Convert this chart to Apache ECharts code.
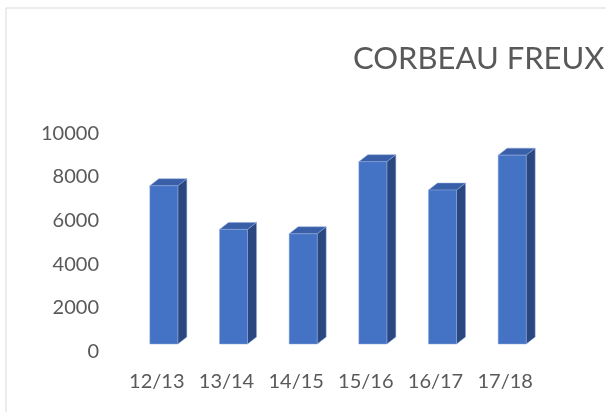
<!DOCTYPE html>
<html lang="fr">
<head>
  <meta charset="UTF-8">
  <title>Corbeau freux</title>
  <script src="https://cdn.jsdelivr.net/npm/echarts@6/dist/echarts.min.js"></script>
  <style>
    html, body { margin: 0; padding: 0; background: #fff; }
    #c1 { width: 606px; height: 412px; }
  </style>
</head>
<body>
<div id="c1"></div>
<script>
  // données
  var saisons = ['12/13', '13/14', '14/15', '15/16', '16/17', '17/18'];
  var effectifs = [7600, 5600, 5400, 8700, 7400, 9000];
  var yTicks = [0, 2000, 4000, 6000, 8000, 10000];

  var chartDom = document.getElementById('c1');
  var myChart = echarts.init(chartDom);
  var option;

  // colonne "3D" façon Excel : face avant + dessus + côté
  function renderBar(params, api) {
    var top = api.coord([api.value(0), api.value(1)]);
    var base = api.coord([api.value(0), 0]);
    var x0 = top[0] - 7, x1 = top[0] + 21;
    var yT = top[1], yB = base[1] - 7.7;
    var dx = 9, dy = 7;
    return {
      type: 'group',
      children: [
        {
          type: 'polygon',
          shape: { points: [[x1, yT], [x1 + dx, yT - dy], [x1 + dx, yB - dy], [x1, yB]] },
          style: { fill: '#2a4780', stroke: '#8fa8d8', lineWidth: 0.5 }
        },
        {
          type: 'polygon',
          shape: { points: [[x0, yT], [x1, yT], [x1 + dx, yT - dy], [x0 + dx, yT - dy]] },
          style: { fill: '#3a5fa9', stroke: '#8fa8d8', lineWidth: 0.5 }
        },
        {
          type: 'rect',
          shape: { x: x0, y: yT, width: x1 - x0, height: yB - yT },
          style: { fill: '#4472c4', stroke: '#8fa8d8', lineWidth: 0.5 }
        }
      ]
    };
  }

  option = {
    animation: false,
    textStyle: { fontFamily: 'Lato' },
    title: {
      text: 'CORBEAU FREUX',
      left: 348,
      top: 38,
      textStyle: { fontFamily: 'Lato', fontSize: 31, fontWeight: 'normal', color: '#595959' }
    },
    graphic: [
      {
        type: 'rect',
        shape: { x: 6, y: 8, width: 640, height: 440 },
        style: { fill: 'none', stroke: '#d9d9d9', lineWidth: 1 },
        silent: true
      }
    ],
    grid: {
      left: 122,
      right: 66,
      top: 133.3,
      bottom: 60.3
    },
    xAxis: {
      type: 'category',
      data: saisons,
      axisLine: { show: false },
      axisTick: { show: false },
      axisLabel: { fontSize: 20, color: '#595959', margin: 20, interval: 0 }
    },
    yAxis: {
      type: 'value',
      min: yTicks[0],
      max: yTicks[yTicks.length - 1],
      interval: yTicks[1] - yTicks[0],
      axisLine: { show: false },
      axisTick: { show: false },
      splitLine: { show: false },
      axisLabel: {
        fontSize: 20, color: '#595959', margin: 23,
        formatter: function (v) { return String(v); }
      }
    },
    series: [
      {
        type: 'custom',
        renderItem: renderBar,
        encode: { x: 0, y: 1 },
        data: effectifs.map(function (v, i) { return [i, v]; })
      }
    ]
  };

  option && myChart.setOption(option);
</script>
</body>
</html>
